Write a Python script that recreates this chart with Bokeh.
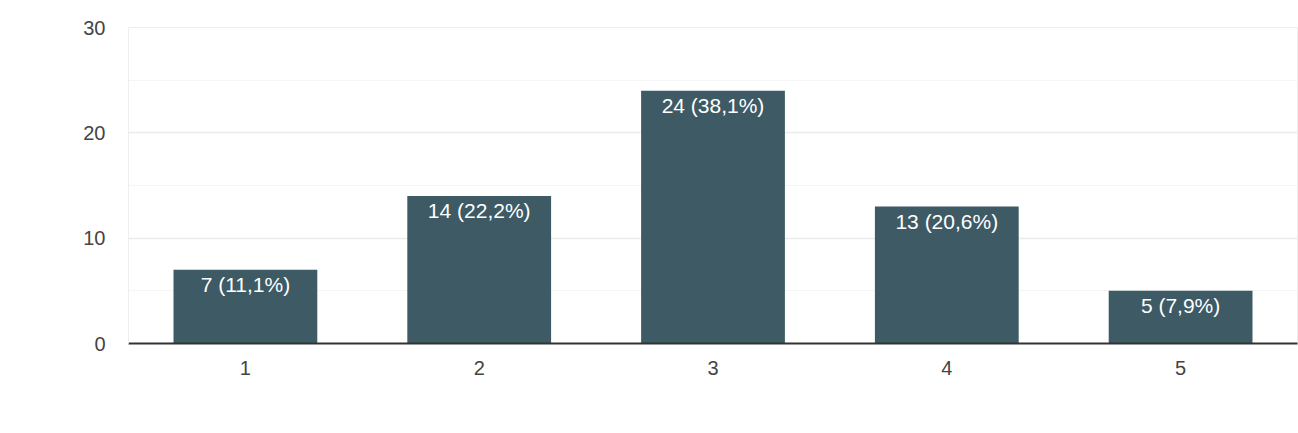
from bokeh.plotting import figure
from bokeh.models import ColumnDataSource, FixedTicker, Range1d
from bokeh.core.properties import value
from bokeh.embed import file_html
from bokeh.resources import INLINE

categories = ["1", "2", "3", "4", "5"]
counts = [7, 14, 24, 13, 5]
labels = ["7 (11,1%)", "14 (22,2%)", "24 (38,1%)", "13 (20,6%)", "5 (7,9%)"]
y_ticks = [0, 10, 20, 30]
minor_ticks = [5, 15, 25]

FONT = "Liberation Sans"

src = ColumnDataSource(dict(cat=categories, count=counts, label=labels))

p = figure(x_range=categories, y_range=Range1d(0, 30), width=1298, height=433,
           output_backend="svg", toolbar_location=None,
           min_border_left=128, min_border_right=1, min_border_top=27, min_border_bottom=90)

p.vbar(x="cat", top="count", width=0.615, source=src, color="#3d5a65", line_color=None)
p.text(x="cat", y="count", text="label", source=src, text_color="white",
       text_font=value(FONT), text_font_size="21px", text_align="center",
       text_baseline="top", y_offset=3)

p.outline_line_color = "#eeeeee"
p.xgrid.grid_line_color = None
p.ygrid.ticker = FixedTicker(ticks=y_ticks, minor_ticks=minor_ticks)
p.yaxis.ticker = FixedTicker(ticks=y_ticks, minor_ticks=minor_ticks)
p.ygrid.grid_line_color = "#ebebeb"
p.ygrid.grid_line_width = 1.5
p.ygrid.minor_grid_line_color = "#f5f5f5"
p.ygrid.minor_grid_line_width = 1

for ax in (p.xaxis, p.yaxis):
    ax.major_tick_line_color = None
    ax.minor_tick_line_color = None
    ax.major_label_text_font = FONT
    ax.major_label_text_font_size = "20px"
    ax.major_label_text_color = "#444444"

p.yaxis.axis_line_color = "#eeeeee"
p.yaxis.major_label_standoff = 17
p.xaxis.axis_line_color = "#333333"
p.xaxis.axis_line_width = 2
p.xaxis.major_label_standoff = 11

open("out.html", "w").write(file_html(p, INLINE))
